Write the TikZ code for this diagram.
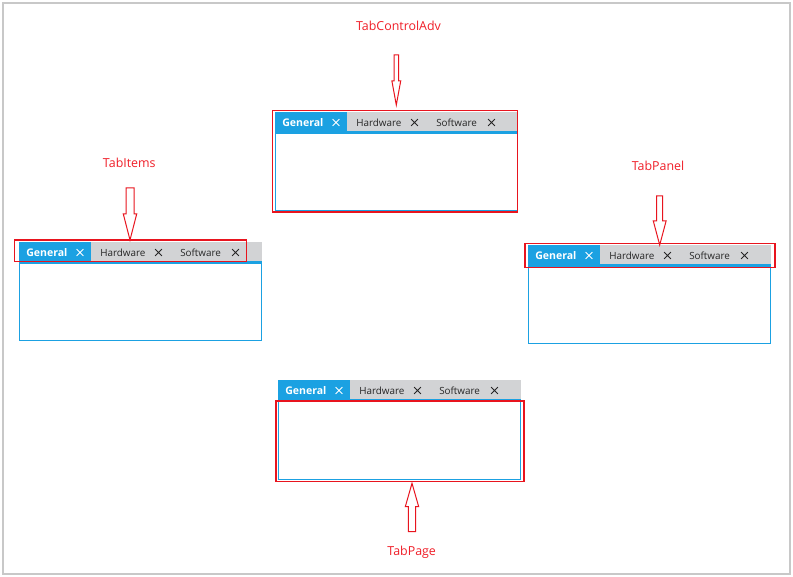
\documentclass[tikz,border=0pt]{standalone}
\usepackage{fontspec}
\setmainfont{Open Sans}
\definecolor{tabblue}{HTML}{1BA1E2}
\definecolor{tabgray}{HTML}{D2D3D5}
\definecolor{hlred}{HTML}{E8141E}
\definecolor{lblred}{HTML}{F01E28}
\definecolor{framegray}{HTML}{C8C8C8}
\tikzset{
  tabtxt/.style={inner sep=0pt, font=\fontsize{7.4}{8}\selectfont, anchor=base west},
  lbl/.style={inner sep=0pt, text=lblred, font=\fontsize{9.3}{11}\selectfont},
  hl/.style={draw=hlred, line width=0.9pt},
  barrow/.style={draw=hlred, fill=white, line width=0.75pt, line join=miter},
  xmark/.style={line width=0.65pt},
}
% cross centered at (#1,#2), colour #3
\newcommand{\xcross}[3]{%
  \draw[xmark, #3] (#1-3.4,#2-3.4) -- (#1+3.4,#2+3.4) (#1-3.4,#2+3.4) -- (#1+3.4,#2-3.4);
}
\newcommand{\tabctl}[3]{%
  \fill[tabgray] (#2,#3) rectangle ++(243,19);
  \fill[tabblue] (#2,#3) rectangle ++(72,19);
  \fill[tabblue] (#2,#3+19) rectangle ++(243,3);
  \draw[tabblue, line width=0.75pt] (#2+0.5,#3+22) rectangle (#2+242.5,#3+99);
  \node[tabtxt, text=white, font=\fontsize{7.9}{8}\selectfont\bfseries] (#1g) at (#2+7,#3+15) {General};
  \xcross{#2+61}{#3+10.5}{white}
  \node[tabtxt, text=black!85] (#1h) at (#2+81,#3+15) {Hardware};
  \xcross{#2+139.5}{#3+10.5}{black!85}
  \node[tabtxt, text=black!85] (#1s) at (#2+161,#3+15) {Software};
  \xcross{#2+216.5}{#3+10.5}{black!85}
}
% cx, shaft top, head base, tip, shaft half, head half
\newcommand{\blockarrow}[6]{%
  \draw[barrow] (#1-#5,#2) -- (#1+#5,#2) -- (#1+#5,#3) -- (#1+#6,#3) -- (#1,#4)
    -- (#1-#6,#3) -- (#1-#5,#3) -- cycle;
}
\begin{document}
\begin{tikzpicture}[x=0.75pt,y=-0.75pt]
\useasboundingbox (0,0) rectangle (793,577);
\fill[white] (0,0) rectangle (793,577);
\draw[framegray, line width=1.5pt] (3,3) rectangle (790,574);

% controls
\tabctl{c1}{275}{112}
\tabctl{c2}{19}{242}
\tabctl{c3}{528}{245}
\tabctl{c4}{278}{380}

% highlight rectangles
\draw[hl] (272.7,110.7) rectangle (517.7,212);
\draw[hl] (14.3,240) rectangle (246.7,261.7);
\draw[hl] (525,243.3) rectangle (775,267.3);
\draw[hl] (276,401) rectangle (524,481.7);

% arrows
\blockarrow{396.3}{55}{81}{105}{2.2}{4.4}
\blockarrow{130}{188}{214}{240}{4}{6.7}
\blockarrow{659.7}{196}{221}{245}{3}{6.4}
\blockarrow{412}{531.7}{506.7}{483.3}{3.7}{6.7}

% labels
\node[lbl] (lab1) at (398.5,26) {TabControlAdv};
\node[lbl] (lab2) at (129.3,162.7) {TabItems};
\node[lbl] (lab3) at (658,166) {TabPanel};
\node[lbl] (lab4) at (411.7,552.3) {TabPage};
\end{tikzpicture}
\end{document}
